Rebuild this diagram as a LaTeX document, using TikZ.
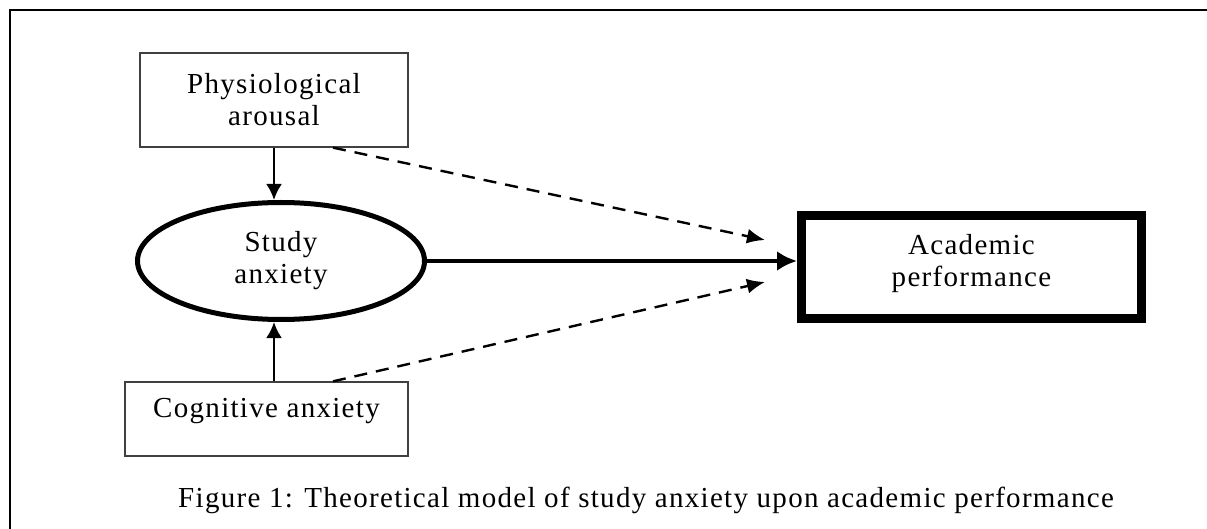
\documentclass[tikz,border=0pt]{standalone}
\usepackage{fontspec}
\setmainfont{Liberation Serif}[LetterSpace=4.5]
\usetikzlibrary{shapes.geometric, arrows.meta, positioning}

\begin{document}
\begin{tikzpicture}[x=1pt,y=-1pt,font=\fontsize{29}{32}\selectfont,
  thinbox/.style={draw=black!75, line width=1.3pt, align=center, inner sep=0pt},
  solidarr/.style={line width=2.6pt, -{Latex[length=16pt,width=16pt]}},
  dasharr/.style={line width=2.4pt, dash pattern=on 13pt off 9pt, -{Latex[length=18pt,width=15pt]}}]
\useasboundingbox (0,0) rectangle (1207,529);
% frame
\draw [line width=2pt] (9.5,529) -- (9.5,10.5) -- (1207,10.5);

\node [thinbox, minimum width=268, minimum height=94] (phys) at (274,100) {Physiological\\arousal};
\node [draw, ellipse, line width=5pt, align=center, minimum width=287, minimum height=117] (study) at (281,261) {Study\\anxiety};
\node [draw, line width=9pt, align=center, minimum width=340, minimum height=103, text depth=14pt] (acad) at (971.5,267) {Academic\\performance};
\node [thinbox, minimum width=283, minimum height=74, text depth=22pt] (cog) at (266.5,419) {Cognitive anxiety};

\coordinate (uptip) at (765,240);
\coordinate (lowtip) at (765,282);

\draw [solidarr] (phys.south) -- (study.north -| phys.south);
\draw [solidarr] (cog.north -| phys.south) -- (study.south -| phys.south);
\draw [line width=4pt, -{Latex[length=20pt,width=20pt]}] (study.east) -- (study.east -| acad.west);
\draw [dasharr] ([xshift=59pt]phys.south) -- (uptip);
\draw [dasharr] ([xshift=66.5pt]cog.north) -- (lowtip);

\node [anchor=base] (caption) at (646,507) {Figure 1: Theoretical model of study anxiety upon academic performance};
\end{tikzpicture}
\end{document}
